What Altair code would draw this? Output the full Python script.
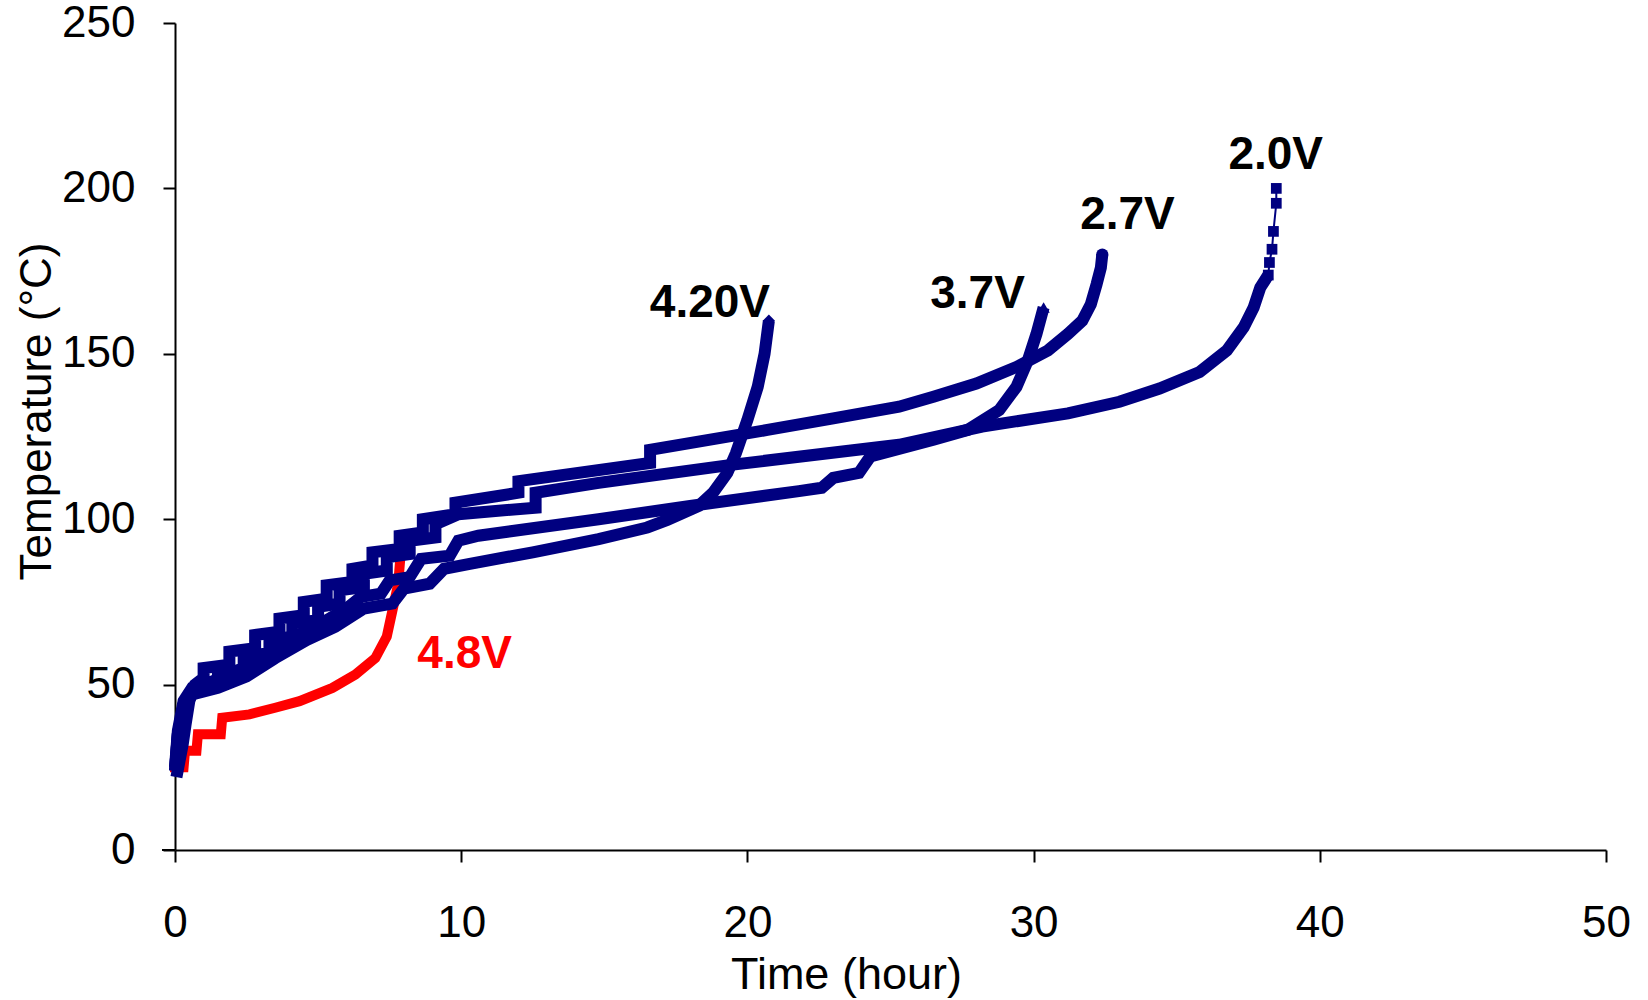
import altair as alt
import pandas as pd

# ---- data ----
v48_x = [0.0, 0.3, 0.35, 0.75, 0.8, 1.6, 1.65, 2.6, 3.5, 4.35, 5.5, 6.3, 7.0, 7.4, 7.6, 7.8, 7.87]
v48_y = [25, 25, 30, 30, 35, 35, 40, 41, 43, 45, 49, 53, 58, 64.5, 72.5, 80.5, 88]

v420_x = [0.0, 0.1, 0.3, 0.6, 1.5, 2.5, 3.5, 4.6, 5.6, 6.6, 7.6, 8.0, 8.9, 9.4, 10.3, 12.5, 14.8,
          16.5, 17.2, 18.3, 18.8, 19.3, 19.6, 20.0, 20.36, 20.6, 20.75]
v420_y = [24, 35, 43, 47, 49, 52.5, 58, 63.5, 67.5, 73, 74.5, 79, 80.5, 85, 86.5, 90, 94,
          97.5, 99.8, 104, 108, 114, 120, 130, 140, 150, 160]

v37_x = [0.0, 0.1, 0.3, 0.6, 1.5, 2.5, 3.5, 4.5, 5.3, 6.0, 6.5, 7.2, 7.5, 8.2, 8.6, 9.6, 9.9, 10.6,
         14.8, 18.0, 21.8, 22.6, 23.0, 23.9, 24.3, 26.5, 27.7, 28.8, 29.4, 29.8, 30.1, 30.35]
v37_y = [25, 36, 45, 49, 51.5, 55.5, 60.5, 66, 69.5, 73, 76.5, 77.5, 81.5, 82.5, 88, 89, 93.5, 95,
         100, 104, 108.5, 109.5, 112.5, 114, 119, 124, 127, 133, 140, 148, 156, 164]

v27_x = [0.05, 0.27, 0.37, 0.5, 0.7, 1.0, 1.0, 1.9, 1.9, 2.8, 2.8, 3.65, 3.65, 4.5, 4.5, 5.3, 5.3,
         6.2, 6.2, 6.9, 6.9, 7.85, 7.85, 8.66, 8.66, 9.8, 9.8, 12.0, 12.0, 16.6, 16.6, 20.7, 23.0,
         25.3, 26.5, 28.0, 29.4, 30.5, 31.2, 31.7, 32.0, 32.2, 32.35, 32.4]
v27_y = [22, 32, 38, 45, 50, 52, 55, 56, 60, 61, 65, 66, 70, 71, 75, 76, 80,
         81, 85, 86, 90, 91, 95, 96, 100, 101.5, 105, 108, 111.5, 117, 121, 127, 130.5,
         134, 137, 141, 146, 151, 156, 160, 165, 171, 176, 180]

v20_x = [0.0, 0.1, 0.3, 0.7, 1.5, 1.5, 2.4, 2.4, 3.3, 3.3, 4.1, 4.1, 5.0, 5.0, 5.75, 5.75, 6.6, 6.6,
         7.4, 7.4, 8.2, 8.2, 9.1, 9.1, 9.9, 12.6, 12.6, 14.8, 19.5, 25.3, 28.2, 31.2, 33.0, 34.4,
         35.8, 36.75, 37.34, 37.69, 37.92, 38.2]
v20_y = [24, 35, 44, 49, 51.5, 53.5, 54.5, 58.5, 59.5, 63.5, 64.5, 68.5, 69.5, 73.5, 74.5, 78.5, 79.5, 83.5,
         84.5, 88.5, 89.5, 93.5, 94.5, 98.5, 101.5, 103.5, 108, 111, 116.5, 122.5, 128, 132, 135.5, 139.5,
         144.5, 151, 158, 164, 170, 173.8]
v20_tail_x = [38.2, 38.24, 38.33, 38.38, 38.48, 38.48]
v20_tail_y = [173.8, 177.6, 181.6, 187, 195.5, 200]

label_text = ["4.20V", "3.7V", "2.7V", "2.0V", "4.8V"]
label_x = [18.69, 28.04, 33.28, 38.46, 10.12]
label_y = [161.2, 163.8, 187.8, 206.0, 54.9]
label_color = ["#000000", "#000000", "#000000", "#000000", "#FF0000"]

NAVY = "#000080"
RED = "#FF0000"
FONT = "Liberation Sans"


def frame(name, xs, ys):
    return pd.DataFrame({"series": name, "x": xs, "y": ys, "i": range(len(xs))})


red_df = frame("4.8V", v48_x, v48_y)
blue_df = pd.concat([
    frame("4.20V", v420_x, v420_y),
    frame("3.7V", v37_x, v37_y),
    frame("2.7V", v27_x, v27_y),
    frame("2.0V", v20_x, v20_y),
], ignore_index=True)
tail_df = frame("2.0V tail", v20_tail_x, v20_tail_y)
end_df = pd.DataFrame({
    "series": ["4.20V", "3.7V", "2.7V"],
    "x": [v420_x[-1], v37_x[-1], v27_x[-1]],
    "y": [v420_y[-1], v37_y[-1], v27_y[-1]],
    "shape": ["diamond", "triangle-up", "circle"],
})
lab_df = pd.DataFrame({"t": label_text, "x": label_x, "y": label_y, "c": label_color})

x_enc = alt.X("x:Q", scale=alt.Scale(domain=[0, 50], nice=False, zero=False),
              axis=alt.Axis(values=[0, 10, 20, 30, 40, 50], grid=False, labelFlush=False,
                            labelFont=FONT, labelFontSize=44, labelColor="black", labelPadding=39,
                            domainColor="black", domainWidth=2, tickColor="black", tickWidth=2, tickSize=12,
                            title="Time (hour)", titleFont=FONT, titleFontSize=45, titleFontWeight="normal",
                            titleColor="black", titleX=671, titleY=138, titleBaseline="alphabetic",
                            titleAlign="center"))
y_enc = alt.Y("y:Q", scale=alt.Scale(domain=[0, 250], nice=False, zero=False),
              axis=alt.Axis(values=[0, 50, 100, 150, 200, 250], grid=False,
                            labelFont=FONT, labelFontSize=44, labelColor="black", labelPadding=28,
                            domainColor="black", domainWidth=2, tickColor="black", tickWidth=2, tickSize=12,
                            title="Temperature (°C)", titleFont=FONT, titleFontSize=44, titleFontWeight="normal",
                            titleColor="black", titleAngle=270, titleX=-125, titleY=388,
                            titleBaseline="alphabetic", titleAlign="center"))

red_line = alt.Chart(red_df).mark_line(color=RED, strokeWidth=10, strokeJoin="miter", strokeCap="square").encode(
    x=x_enc, y=y_enc, order="i:Q")

blue_line = alt.Chart(blue_df).mark_line(color=NAVY, strokeWidth=12, strokeJoin="miter", strokeCap="butt").encode(
    x=x_enc, y=y_enc, detail="series:N", order="i:Q")

tail_line = alt.Chart(tail_df).mark_line(color=NAVY, strokeWidth=2).encode(x=x_enc, y=y_enc, order="i:Q")
tail_pts = alt.Chart(tail_df).mark_point(shape="square", filled=True, color=NAVY, size=115, opacity=1).encode(
    x=x_enc, y=y_enc)

end_pts = alt.Chart(end_df).mark_point(filled=True, color=NAVY, size=150, opacity=1).encode(
    x=x_enc, y=y_enc, shape=alt.Shape("shape:N", scale=None))

labels = alt.Chart(lab_df).mark_text(font=FONT, fontWeight="bold", fontSize=46, align="center",
                                     baseline="alphabetic").encode(
    x=x_enc, y=y_enc, text="t:N", color=alt.Color("c:N", scale=None))

stub = alt.Chart(lab_df).mark_rule(color="black", strokeWidth=2).encode(
    x=alt.value(-13), x2=alt.value(0), y=alt.value(827))

chart = alt.layer(red_line, blue_line, tail_line, tail_pts, end_pts, labels, stub).properties(
    width=1431, height=827,
    padding={"left": 175, "top": 23, "right": 42, "bottom": 150},
    autosize=alt.AutoSizeParams(type="none"),
    background="white",
).configure_view(strokeWidth=0)

chart.save("out.html", embed_options={"renderer": "svg", "actions": False})
